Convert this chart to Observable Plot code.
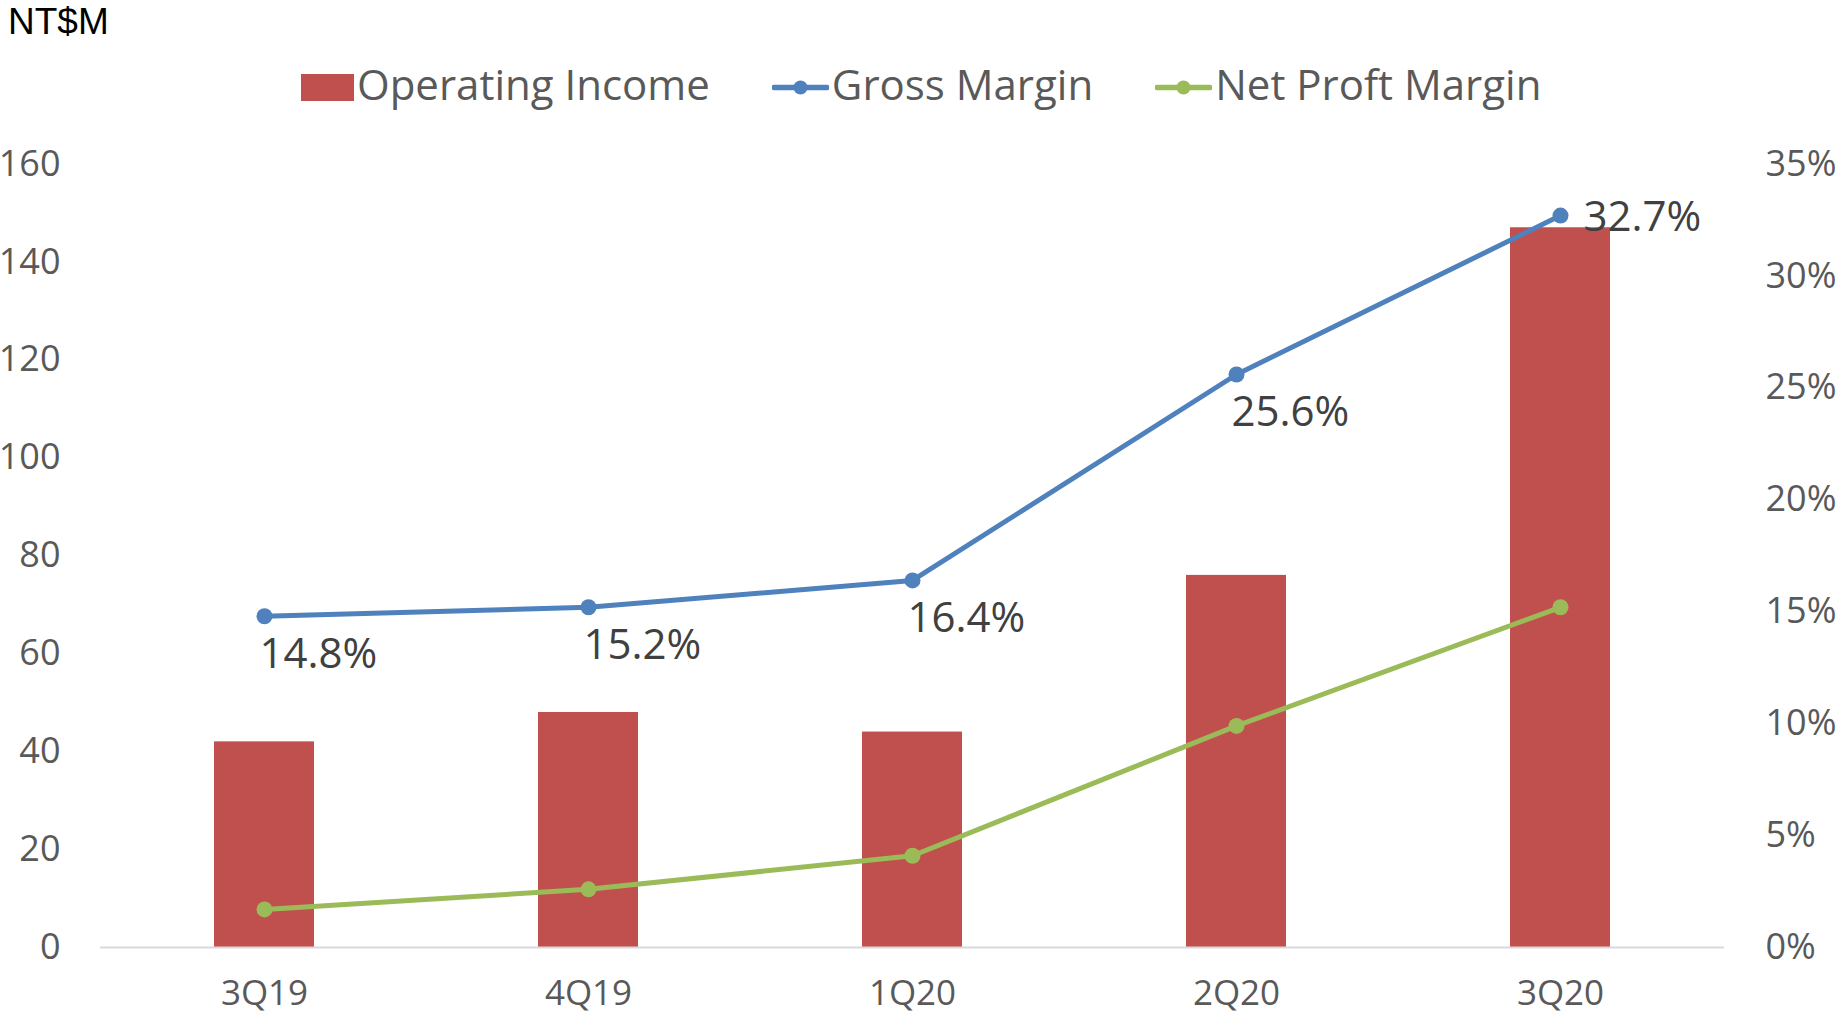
<!DOCTYPE html>
<html>
<head>
<meta charset="utf-8">
<script src="https://cdn.jsdelivr.net/npm/d3@7"></script>
<script src="https://cdn.jsdelivr.net/npm/@observablehq/plot@0.6"></script>
<style>
  html, body { margin: 0; padding: 0; background: #fff; }
  #page { position: relative; width: 1845px; height: 1019px; overflow: hidden; }
  #header { position: relative; width: 1845px; height: 120px; }
  #title { position: absolute; left: 8px; top: 3px; font-family: "Liberation Sans", Arial, sans-serif; font-size: 37px; line-height: 37px; color: #000; }
  #legend { position: absolute; left: 301px; top: 63px; height: 42px; display: flex; align-items: flex-start; font-family: "Open Sans", sans-serif; font-size: 42px; line-height: 42px; color: #595959; white-space: nowrap; }
  .item { display: flex; align-items: flex-start; margin-right: 62px; }
  .item span { margin-left: 3px; }
  .rect { width: 53px; height: 27px; margin-top: 11px; }
</style>
</head>
<body>
<div id="page">
  <div id="header">
    <div id="title"></div>
    <div id="legend"></div>
  </div>
  <div id="chart"></div>
</div>
<script>
const unitLabel = "NT$M";
const categories = ["3Q19", "4Q19", "1Q20", "2Q20", "3Q20"];
const operatingIncome = [42, 48, 44, 76, 147];
const grossMargin = [14.8, 15.2, 16.4, 25.6, 32.7];
const netProfitMargin = [1.7, 2.6, 4.1, 9.9, 15.2];
const leftTicks = [0, 20, 40, 60, 80, 100, 120, 140, 160];
const rightTicks = [0, 5, 10, 15, 20, 25, 30, 35];
const seriesNames = ["Operating Income", "Gross Margin", "Net Proft Margin"];
const colors = ["#C0504D", "#4F81BD", "#9BBB59"];

const leftMax = 160, rightMax = 35;
const toLeft = p => p * leftMax / rightMax;

const table = categories.map((c, i) => ({
  cat: c,
  income: operatingIncome[i],
  gross: grossMargin[i],
  net: netProfitMargin[i],
  grossY: toLeft(grossMargin[i]),
  netY: toLeft(netProfitMargin[i])
}));

document.getElementById("title").textContent = unitLabel;

// Legend
const legend = document.getElementById("legend");
seriesNames.forEach((name, i) => {
  const item = document.createElement("div");
  item.className = "item";
  if (i === 0) {
    const r = document.createElement("div");
    r.className = "rect";
    r.style.background = colors[i];
    item.appendChild(r);
  } else {
    const ns = "http://www.w3.org/2000/svg";
    const s = document.createElementNS(ns, "svg");
    s.setAttribute("width", 57); s.setAttribute("height", 42);
    const l = document.createElementNS(ns, "line");
    l.setAttribute("x1", 2); l.setAttribute("x2", 55);
    l.setAttribute("y1", 24.5); l.setAttribute("y2", 24.5);
    l.setAttribute("stroke", colors[i]); l.setAttribute("stroke-width", 5.5);
    l.setAttribute("stroke-linecap", "round");
    const c = document.createElementNS(ns, "circle");
    c.setAttribute("cx", 28.5); c.setAttribute("cy", 24.5); c.setAttribute("r", 7);
    c.setAttribute("fill", colors[i]);
    s.appendChild(l); s.appendChild(c);
    item.appendChild(s);
  }
  const t = document.createElement("span");
  t.textContent = name;
  item.appendChild(t);
  legend.appendChild(item);
});

const last = table.length - 1;

const chart = Plot.plot({
  width: 1845,
  height: 899,
  marginLeft: 100,
  marginRight: 121,
  marginTop: 43.6,
  marginBottom: 72,
  style: { fontFamily: "Open Sans, sans-serif", color: "#595959", background: "white" },
  x: { type: "band", domain: categories, paddingInner: 0.69, paddingOuter: 0.345, label: null },
  y: { domain: [0, leftMax], label: null },
  marks: [
    Plot.barY(table, { x: "cat", y: "income", fill: colors[0] }),
    Plot.ruleY([0], { stroke: "#D9D9D9", strokeWidth: 2 }),
    Plot.line(table, { x: "cat", y: "grossY", stroke: colors[1], strokeWidth: 5 }),
    Plot.dot(table, { x: "cat", y: "grossY", fill: colors[1], r: 8 }),
    Plot.line(table, { x: "cat", y: "netY", stroke: colors[2], strokeWidth: 5 }),
    Plot.dot(table, { x: "cat", y: "netY", fill: colors[2], r: 8 }),
    Plot.text(table.filter((d, i) => i < last), {
      x: "cat", y: "grossY", text: d => d.gross.toFixed(1) + "%",
      textAnchor: "start", dx: -5, dy: 38, fontSize: 42, fill: "#404040"
    }),
    Plot.text(table.filter((d, i) => i === last), {
      x: "cat", y: "grossY", text: d => d.gross.toFixed(1) + "%",
      textAnchor: "start", dx: 23, dy: 2, fontSize: 42, fill: "#404040"
    }),
    Plot.axisX({ tickSize: 0, tickPadding: 33, fontSize: 35, label: null }),
    Plot.axisY(leftTicks, { anchor: "left", tickSize: 0, tickPadding: 40, fontSize: 36, label: null }),
    Plot.axisY(rightTicks.map(toLeft), {
      anchor: "right", tickSize: 0, tickPadding: 41, fontSize: 36, label: null,
      tickFormat: v => Math.round(v * rightMax / leftMax) + "%"
    })
  ]
});
document.getElementById("chart").appendChild(chart);
</script>
</body>
</html>
